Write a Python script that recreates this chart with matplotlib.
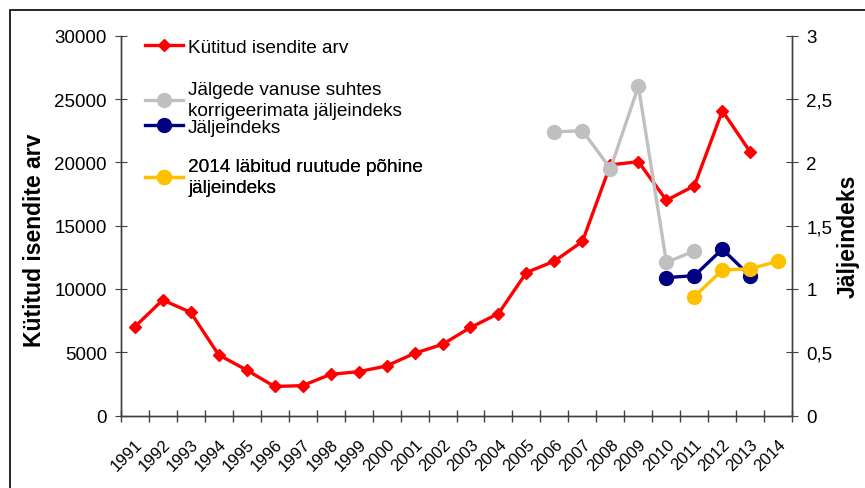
import matplotlib.pyplot as plt
from matplotlib.patches import Rectangle
import numpy as np

plt.rcParams['font.family'] = ['Liberation Sans', 'DejaVu Sans']

# Andmed
aastad = [str(a) for a in range(1991, 2015)]
kytitud = [7000, 9130, 8160, 4800, 3600, 2300, 2370, 3260, 3470, 3920, 4920, 5630,
           6960, 8060, 11300, 12200, 13750, 19800, 20050, 17000, 18150, 24070, 20800, None]
korrigeerimata = [None] * 15 + [2.24, 2.25, 1.95, 2.60, 1.21, 1.30, None, None, None]
jaljeindeks = [None] * 19 + [1.09, 1.105, 1.315, 1.10, None]
ruudud_2014 = [None] * 20 + [0.94, 1.15, 1.16, 1.22]


def to_arr(vals):
    return np.array([np.nan if v is None else v for v in vals], dtype=float)


x = np.arange(len(aastad))
axis_color = '#404040'

fig = plt.figure(figsize=(8.65, 4.89), dpi=100)
ax = fig.add_axes([0.1395, 0.148, 0.7765, 0.777])
ax2 = ax.twinx()

# raam ümber joonise (ainult vasak ja ülemine serv on nähtav)
fig.patches.append(Rectangle((10 / 865, -0.1), 1.2, 1.1 - 11 / 489, transform=fig.transFigure,
                             fill=False, edgecolor='black', linewidth=1.2))

l1, = ax.plot(x, to_arr(kytitud), color='#FF0000', linewidth=2.4, marker='D',
              markersize=6.5, label='Kütitud isendite arv', zorder=3)
l2, = ax2.plot(x, to_arr(korrigeerimata), color='#C0C0C0', linewidth=2.4, marker='o',
               markersize=10, label='Jälgede vanuse suhtes\nkorrigeerimata jäljeindeks')
l3, = ax2.plot(x, to_arr(jaljeindeks), color='#000080', linewidth=2.4, marker='o',
               markersize=10, label='Jäljeindeks')
l4, = ax2.plot(x, to_arr(ruudud_2014), color='#FFC000', linewidth=2.4, marker='o',
               markersize=10, label='2014 läbitud ruutude põhine\njäljeindeks')

ax.set_xlim(-0.5, len(aastad) - 0.5)
ax.set_ylim(0, 30000)
ax2.set_ylim(0, 3)
ax.set_yticks(range(0, 30001, 5000))
ax2.set_yticks([0, 0.5, 1, 1.5, 2, 2.5, 3])
ax2.set_yticklabels(['0', '0,5', '1', '1,5', '2', '2,5', '3'])

ax.set_xticks(x)
ax.set_xticklabels(aastad, rotation=45, ha='right', rotation_mode='anchor', fontsize=12)
ax.set_xticks(np.arange(-0.5, len(aastad)), minor=True)
ax.tick_params(axis='x', which='major', length=0, pad=15)
ax.tick_params(axis='x', which='minor', direction='inout', length=8, color=axis_color, width=1)
ax.tick_params(axis='y', direction='inout', length=8, color=axis_color, labelsize=13.5, pad=6)
ax2.tick_params(axis='y', direction='inout', length=8, color=axis_color, labelsize=13.5, pad=6)

for a in (ax, ax2):
    a.spines['top'].set_visible(False)
    for s in ('left', 'right', 'bottom'):
        a.spines[s].set_color(axis_color)
        a.spines[s].set_linewidth(1)

ax.set_ylabel('Kütitud isendite arv', fontsize=16.5, fontweight='bold')
ax2.set_ylabel('Jäljeindeks', fontsize=16.5, fontweight='bold')
ax.yaxis.set_label_coords(-0.111, 0.464)
ax2.yaxis.set_label_coords(1.0666, 0.474)

# legend nagu Excelis: iga kirje eraldi, et vahed klapiksid
legend_rows = [(l1, 0.970), (l2, 0.831), (l3, 0.760), (l4, 0.628)]
for handle, yc in legend_rows:
    leg = ax2.legend(handles=[handle], loc='center left', bbox_to_anchor=(0.025, yc),
                     borderaxespad=0, frameon=False, fontsize=13.7, handlelength=2.0,
                     handletextpad=0.26)
    for t in leg.get_texts():
        t.set_linespacing(1.3)
    ax2.add_artist(leg)

fig.savefig('out.png', dpi=100)
